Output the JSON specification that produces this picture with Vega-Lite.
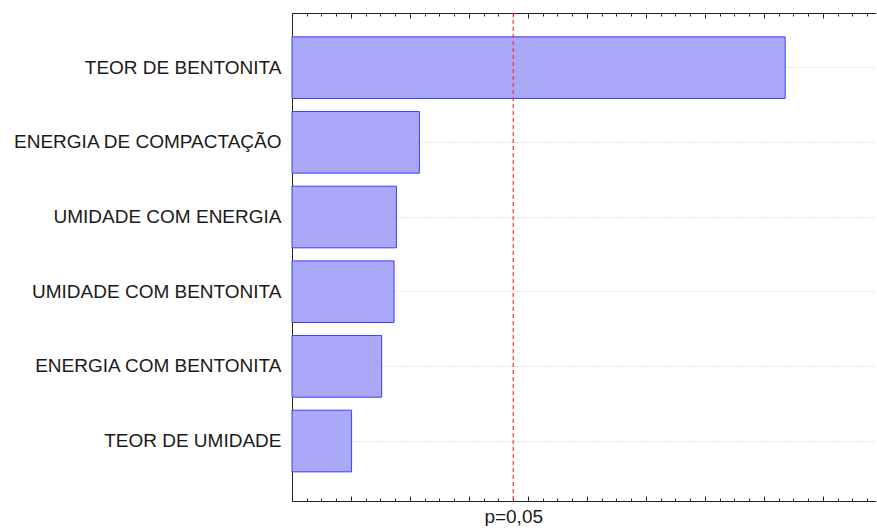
{
  "$schema": "https://vega.github.io/schema/vega-lite/v6.json",
  "width": 584,
  "height": 488,
  "padding": {"left": 12, "top": 12, "right": 0, "bottom": 0},
  "background": "white",
  "config": {
    "view": {"stroke": null},
    "font": "Liberation Sans",
    "axis": {"labelFont": "Liberation Sans", "domainColor": "#222222", "tickColor": "#222222"}
  },
  "datasets": {
    "effects": [
      {"factor": "TEOR DE BENTONITA", "effect": 8.36},
      {"factor": "ENERGIA DE COMPACTAÇÃO", "effect": 2.16},
      {"factor": "UMIDADE COM ENERGIA", "effect": 1.77},
      {"factor": "UMIDADE COM BENTONITA", "effect": 1.73},
      {"factor": "ENERGIA COM BENTONITA", "effect": 1.52},
      {"factor": "TEOR DE UMIDADE", "effect": 1.01}
    ],
    "limit": [{"crit": 3.75, "label": "p=0,05"}]
  },
  "layer": [
    {
      "data": {"name": "effects"},
      "mark": {"type": "bar", "fill": "#a9a9f7", "stroke": "#3c3cff", "strokeWidth": 1},
      "encoding": {
        "y": {
          "field": "factor", "type": "nominal", "sort": null,
          "scale": {"paddingInner": 0.175, "paddingOuter": 0.355, "align": 0.45},
          "axis": {
            "title": null, "orient": "left", "grid": true, "gridColor": "#cfcfcf", "gridDash": [1, 2],
            "tickSize": -3, "labelFontSize": 19, "labelColor": "#1a1a1a", "labelPadding": 14,
            "labelLimit": 400
          }
        },
        "x": {
          "field": "effect", "type": "quantitative",
          "scale": {"domain": [0, 9.9], "nice": false, "zero": true},
          "axis": {
            "title": null, "orient": "bottom", "grid": false,
            "values": [0,0.25,0.5,0.75,1,1.25,1.5,1.75,2,2.25,2.5,2.75,3,3.25,3.5,3.75,4,4.25,4.5,4.75,5,5.25,5.5,5.75,6,6.25,6.5,6.75,7,7.25,7.5,7.75,8,8.25,8.5,8.75,9,9.25,9.5,9.75],
            "tickSize": {"condition": {"test": "datum.value % 1 === 0", "value": -5}, "value": -3},
            "labelExpr": "datum.value == 3.75 ? 'p=0,05' : ''",
            "labelFontSize": 19, "labelColor": "#1a1a1a", "labelPadding": 9, "labelFlush": false, "labelOverlap": false
          }
        }
      }
    },
    {
      "data": {"name": "limit"},
      "mark": {"type": "rule", "color": "#ff3030", "strokeDash": [4, 3], "strokeWidth": 1.2},
      "encoding": {
        "x": {
          "field": "crit", "type": "quantitative",
          "axis": {
            "title": null, "orient": "top", "grid": false, "labels": false,
            "values": [0,0.25,0.5,0.75,1,1.25,1.5,1.75,2,2.25,2.5,2.75,3,3.25,3.5,3.75,4,4.25,4.5,4.75,5,5.25,5.5,5.75,6,6.25,6.5,6.75,7,7.25,7.5,7.75,8,8.25,8.5,8.75,9,9.25,9.5,9.75],
            "tickSize": {"condition": {"test": "datum.value % 1 === 0", "value": -5}, "value": -3}
          }
        }
      }
    }
  ],
  "resolve": {"axis": {"x": "independent"}}
}
